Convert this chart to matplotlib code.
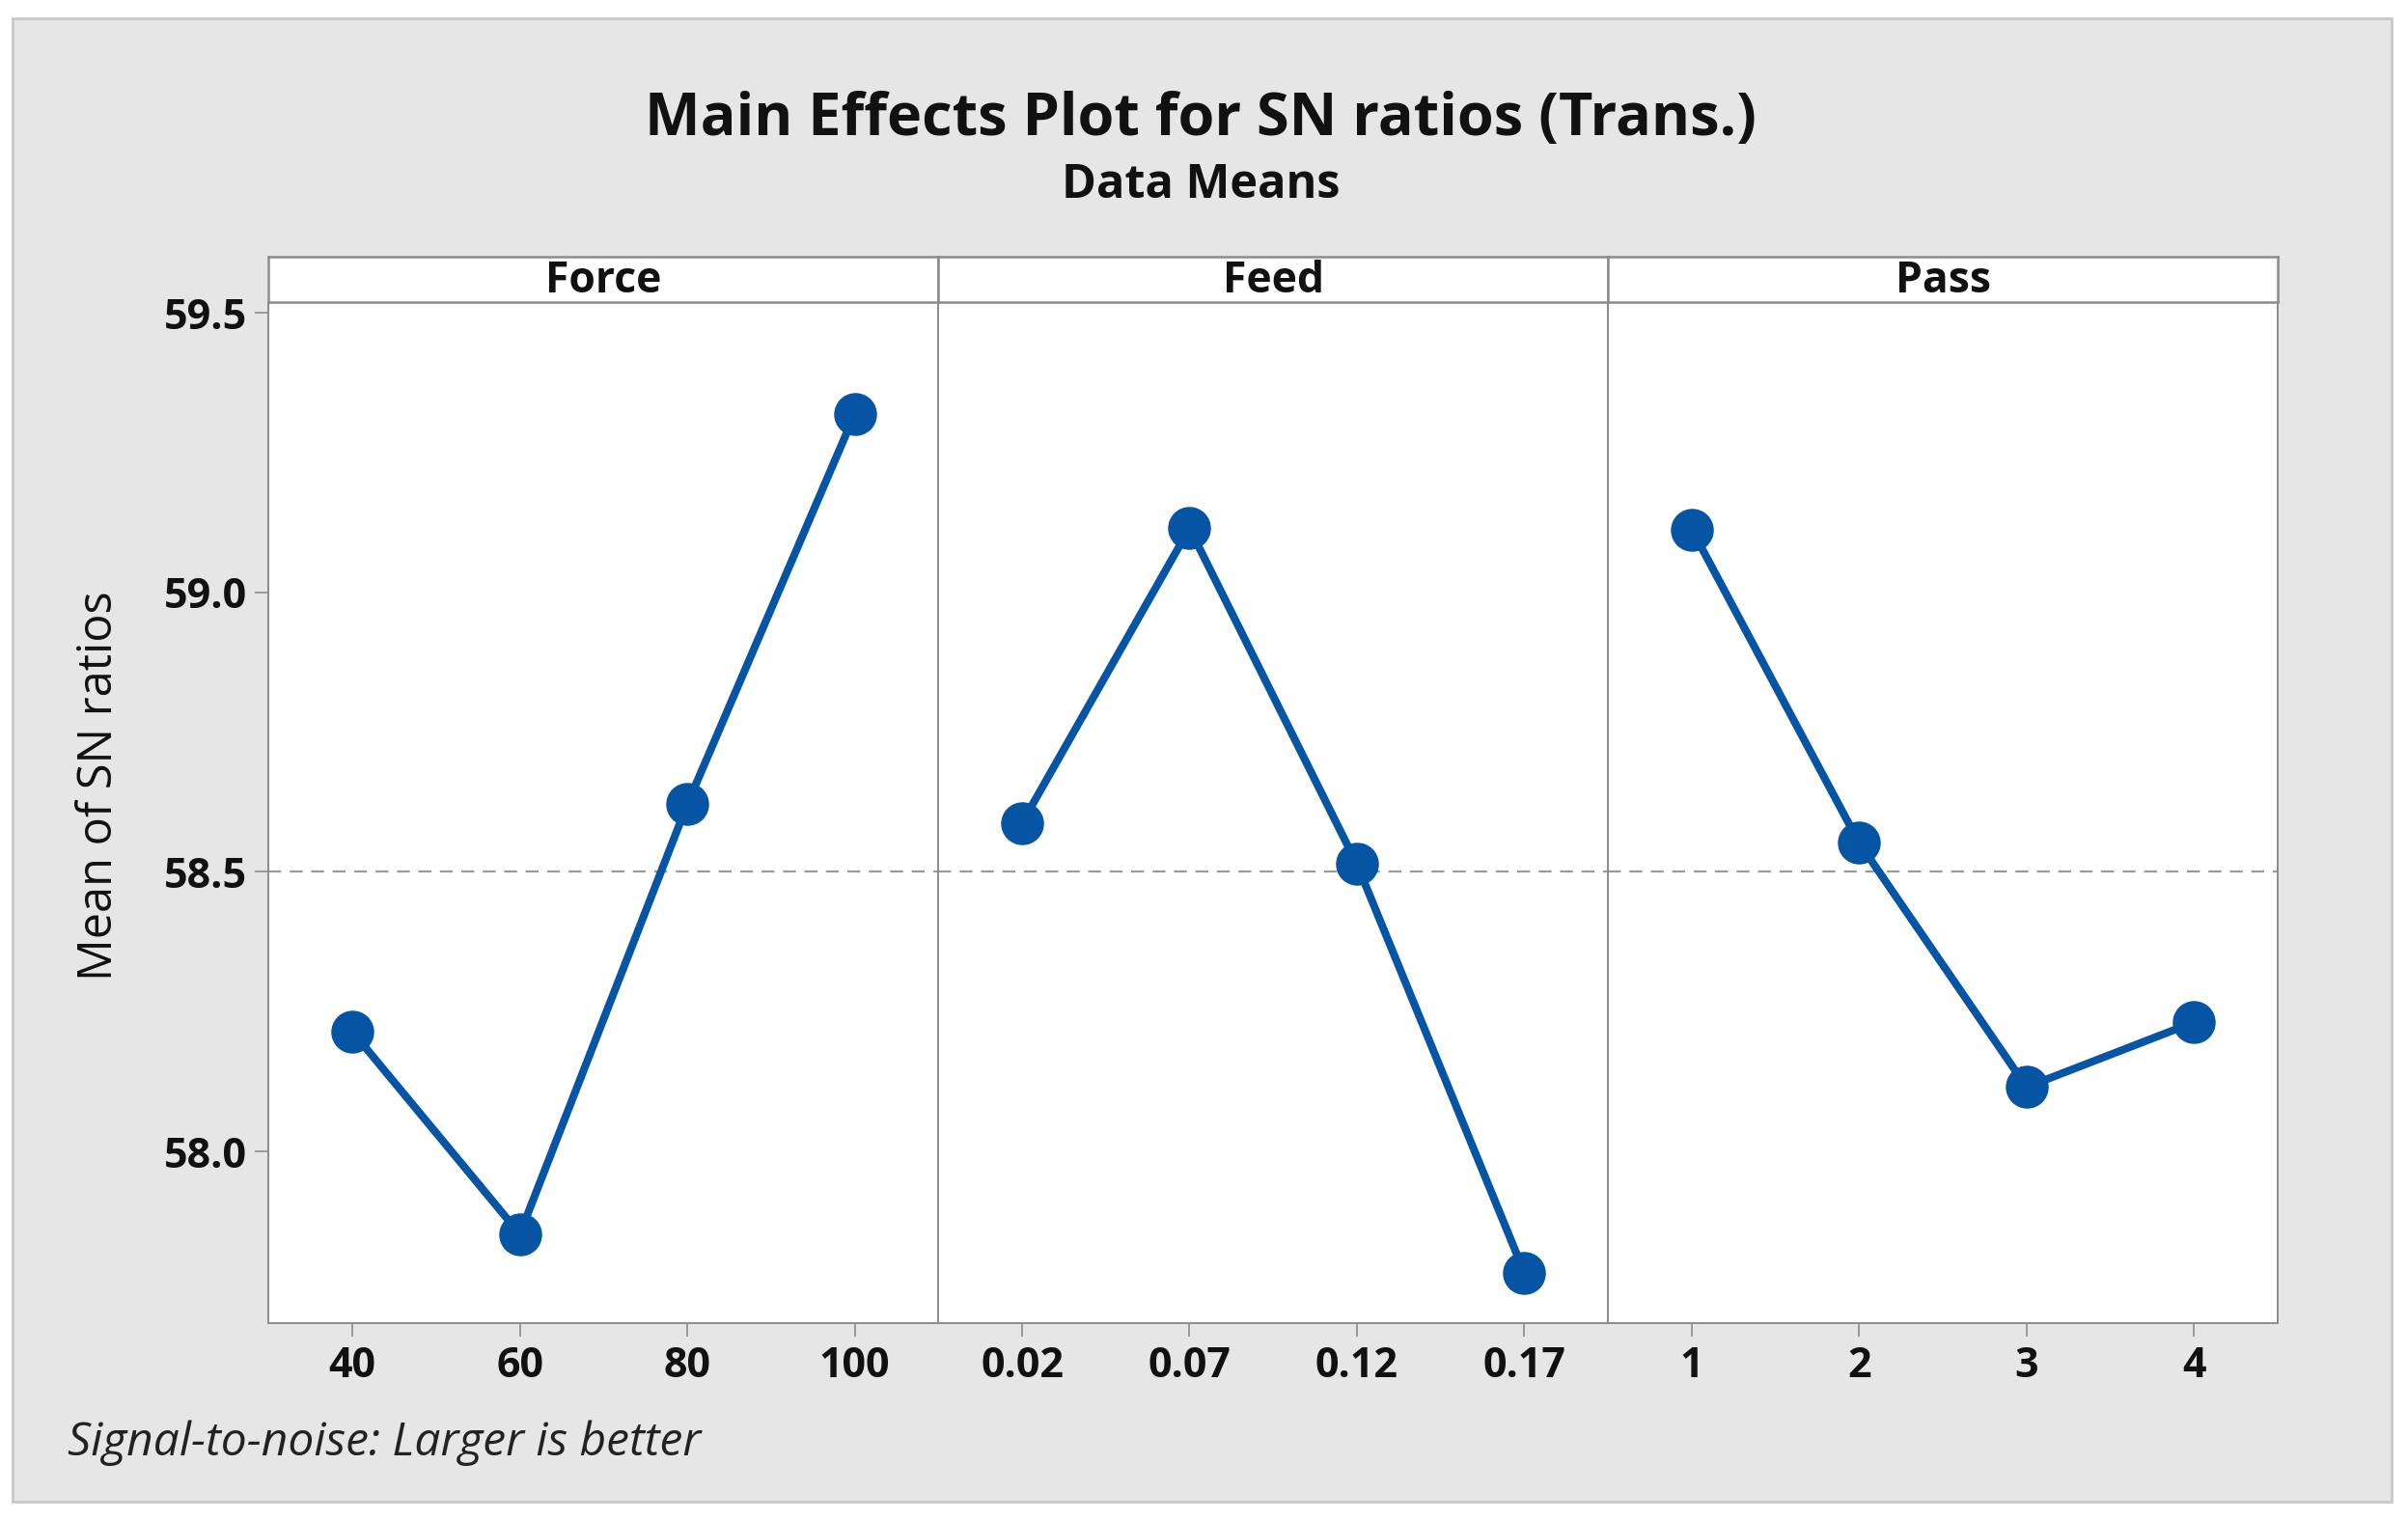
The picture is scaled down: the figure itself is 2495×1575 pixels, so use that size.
import numpy as np
import matplotlib
matplotlib.use('Agg')
import matplotlib.pyplot as plt
from matplotlib.patches import Rectangle

# data
factors = ['Force', 'Feed', 'Pass']
levels = [['40', '60', '80', '100'],
          ['0.02', '0.07', '0.12', '0.17'],
          ['1', '2', '3', '4']]
force_sn = [58.214, 57.852, 58.621, 59.319]
feed_sn = [58.588, 59.115, 58.514, 57.783]
pass_sn = [59.113, 58.552, 58.115, 58.231]
series = [force_sn, feed_sn, pass_sn]
yticks = [58.0, 58.5, 59.0, 59.5]

blue = '#0654a4'
plt.rcParams['font.family'] = ['Open Sans', 'DejaVu Sans']

W, H = 2495, 1575
fig = plt.figure(figsize=(W/100, H/100), dpi=100, facecolor='white')
fig.patches.append(Rectangle((0.0051, 0.0121), 0.988, 0.9758, transform=fig.transFigure,
                             facecolor='#e6e6e6', edgecolor='#c8c8c8', lw=2, zorder=-5))

fig.text(0.4987, 0.9212, 'Main Effects Plot for SN ratios (Trans.)', ha='center', va='center',
         fontsize=44, fontweight='bold', color='#111111')
fig.text(0.4987, 0.8778, 'Data Means', ha='center', va='center', fontsize=35,
         fontweight='bold', color='#111111')
fig.text(0.0415, 0.4828, 'Mean of SN ratios', rotation=90, ha='center', va='center',
         fontsize=35, color='#111111')
fig.text(0.028, 0.0505, 'Signal-to-noise: Larger is better', ha='left', va='center',
         fontsize=34.5, style='italic', color='#222222')

grand_mean = np.mean(np.concatenate(series))
left, pw = 0.1116, 0.2781
bottom, top, strip_top = 0.1293, 0.8010, 0.8313
edge = '#8c8c8c'

for i, (name, labs, vals) in enumerate(zip(factors, levels, series)):
    x0 = left + i * pw
    ax = fig.add_axes([x0, bottom, pw, top - bottom])
    ax.set_facecolor('white')
    xs = np.arange(1, 5)
    ax.axhline(grand_mean, color='#9a9a9a', lw=1.6, ls=(0, (6, 4)), zorder=1)
    ax.plot(xs, vals, color=blue, lw=5.8, marker='o', ms=31, zorder=3)
    ax.set_xlim(0.5, 4.5)
    ax.set_ylim(57.692, 59.519)
    ax.set_xticks(xs)
    ax.set_xticklabels(labs, fontsize=31, fontweight='bold', color='#111111')
    ax.tick_params(axis='x', length=10, width=1.2, color=edge, pad=6)
    if i == 0:
        ax.set_yticks(yticks)
        ax.set_yticklabels([f'{v:.1f}' for v in yticks], fontsize=31,
                           fontweight='bold', color='#111111')
        ax.tick_params(axis='y', length=10, width=1.2, color=edge, pad=6)
    else:
        ax.set_yticks([])
    for s in ax.spines.values():
        s.set_color(edge)
        s.set_linewidth(1.4)

    sax = fig.add_axes([x0, top, pw, strip_top - top])
    sax.set_facecolor('white')
    sax.set_xticks([]); sax.set_yticks([])
    for s in sax.spines.values():
        s.set_color(edge)
        s.set_linewidth(1.8)
    sax.text(0.5, 0.45, name, transform=sax.transAxes, ha='center', va='center',
             fontsize=32, fontweight='bold', color='#111111')

fig.savefig('out.png', dpi=100, facecolor='white')
